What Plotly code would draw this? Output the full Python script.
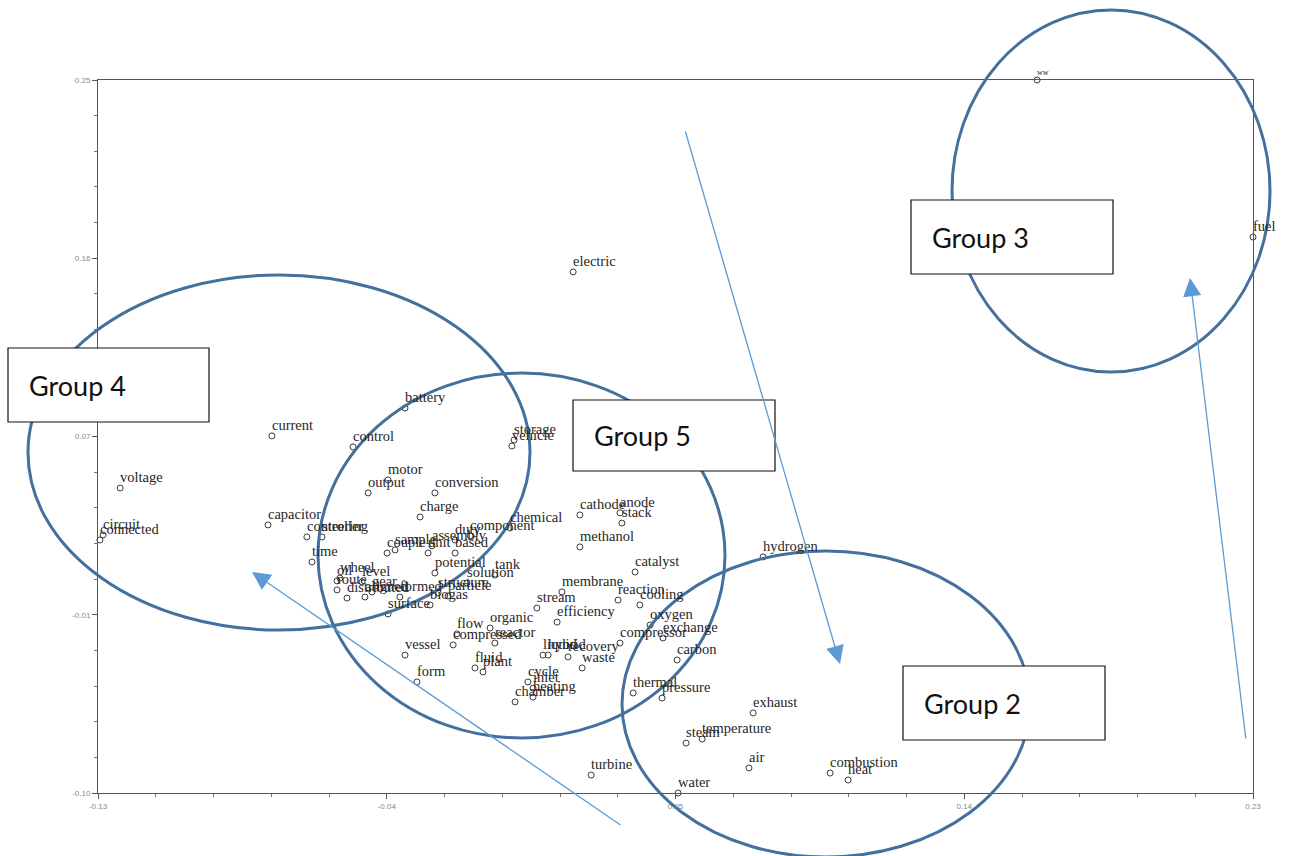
import numpy as np
import plotly.graph_objects as go

# Term coordinates on the two mapped dimensions
terms = [
    "ww", "fuel", "electric", "battery", "current", "control", "storage", "vehicle",
    "voltage", "motor", "output", "conversion", "charge", "capacitor", "controller",
    "steering", "time", "circuit", "connected", "couple", "sample", "unit", "assembly",
    "based", "duty", "component", "chemical", "cathode", "anode", "stack", "methanol",
    "catalyst", "potential", "tank", "solution", "wheel", "oil", "level", "route",
    "distributed", "aligned", "gear", "formed", "structure", "particle", "biogas",
    "surface", "membrane", "reaction", "cooling", "stream", "efficiency", "organic",
    "flow", "reactor", "compressed", "vessel", "fluid", "plant", "form", "liquid",
    "hybrid", "recovery", "waste", "compressor", "cycle", "inlet", "heating", "chamber",
    "thermal", "pressure", "oxygen", "exchange", "carbon", "hydrogen", "exhaust",
    "steam", "temperature", "air", "combustion", "heat", "water", "turbine",
]
dim1 = [
    0.1627, 0.2300, 0.0181, -0.0343, -0.0758, -0.0505, -0.0003, -0.0010,
    -0.1231, -0.0396, -0.0458, -0.0250, -0.0296, -0.0770, -0.0649,
    -0.0602, -0.0633, -0.1284, -0.1294, -0.0399, -0.0374, -0.0271, -0.0259,
    -0.0187, -0.0187, -0.0140, -0.0016, 0.0202, 0.0327, 0.0333, 0.0202,
    0.0374, -0.0250, -0.0063, -0.0150, -0.0546, -0.0555, -0.0477, -0.0555,
    -0.0524, -0.0468, -0.0446, -0.0359, -0.0240, -0.0209, -0.0265,
    -0.0396, 0.0146, 0.0321, 0.0389, 0.0068, 0.0131, -0.0078,
    -0.0181, -0.0063, -0.0193, -0.0343, -0.0125, -0.0100, -0.0306, 0.0087,
    0.0103, 0.0165, 0.0209, 0.0327, 0.0040, 0.0056, 0.0056, 0.0000,
    0.0368, 0.0458, 0.0421, 0.0461, 0.0505, 0.0773, 0.0742,
    0.0533, 0.0583, 0.0729, 0.0982, 0.1038, 0.0508, 0.0237,
]
dim2 = [
    0.2500, 0.1729, 0.1558, 0.0890, 0.0753, 0.0699, 0.0733, 0.0703,
    0.0497, 0.0537, 0.0473, 0.0473, 0.0355, 0.0316, 0.0257,
    0.0257, 0.0134, 0.0267, 0.0242, 0.0178, 0.0193, 0.0178, 0.0213,
    0.0178, 0.0242, 0.0262, 0.0301, 0.0365, 0.0375, 0.0325, 0.0208,
    0.0085, 0.0080, 0.0070, 0.0031, 0.0055, 0.0041, 0.0036, -0.0003,
    -0.0043, -0.0038, -0.0013, -0.0038, -0.0018, -0.0033, -0.0077,
    -0.0121, -0.0013, -0.0053, -0.0077, -0.0092, -0.0161, -0.0190,
    -0.0219, -0.0264, -0.0273, -0.0323, -0.0386, -0.0406, -0.0455, -0.0323,
    -0.0323, -0.0332, -0.0386, -0.0264, -0.0455, -0.0485, -0.0529, -0.0553,
    -0.0509, -0.0534, -0.0175, -0.0239, -0.0347, 0.0159, -0.0607,
    -0.0755, -0.0735, -0.0877, -0.0902, -0.0936, -0.1000, -0.0912,
]

# Axis ticks
x_ticks = [-0.13, -0.04, 0.05, 0.14, 0.23]
x_labels = ["-0.13", "-0.04", "0.05", "0.14", "0.23"]
y_ticks = list(np.linspace(-0.10, 0.25, 5))
y_labels = ["-0.10", "-0.01", "0.07", "0.16", "0.25"]

# Group captions
groups = ["Group 4", "Group 5", "Group 3", "Group 2"]

W, H = 1299, 856
L, R, T, B = 98, 46, 80, 63
PW, PH = W - L - R, H - T - B


def px(x):
    return (x - L) / PW


def py(y):
    return (H - B - y) / PH


fig = go.Figure()
fig.add_trace(go.Scatter(
    x=dim1, y=dim2, mode="markers", text=terms,
    marker=dict(symbol="circle-open", size=6, color="#3a3a3a", line=dict(width=1)),
    cliponaxis=False, hoverinfo="text",
))

annotations = []
# Term labels sit just above and to the right of each marker
for term, xv, yv in zip(terms, dim1, dim2):
    small = term == "ww"
    annotations.append(dict(
        x=xv, y=yv, xref="x", yref="y", text=term, showarrow=False,
        xanchor="left", yanchor="bottom", xshift=-1, yshift=2,
        borderpad=0,
        font=dict(family="Liberation Serif", size=8 if small else 14.5,
                  color="#262626"),
    ))

ring = "#43709e"
ellipses = [
    (28, 275, 530, 630),
    (318, 373, 725, 738),
    (952, 10, 1270, 372),
    (622, 551, 1030, 857),
]
shapes = []
for x0, y0, x1, y1 in ellipses:
    shapes.append(dict(type="circle", xref="paper", yref="paper",
                       x0=px(x0), x1=px(x1), y0=py(y1), y1=py(y0),
                       line=dict(color=ring, width=3), layer="above"))

boxes = [
    (8, 348, 209, 422),
    (573, 400, 775, 471),
    (911, 200, 1113, 274),
    (903, 666, 1105, 740),
]
for name, (x0, y0, x1, y1) in zip(groups, boxes):
    shapes.append(dict(type="rect", xref="paper", yref="paper",
                       x0=px(x0), x1=px(x1), y0=py(y1), y1=py(y0),
                       line=dict(color="#111111", width=1.2),
                       fillcolor="white", layer="above"))
    annotations.append(dict(xref="paper", yref="paper",
                            x=px(x0 + 19), y=py((y0 + y1) / 2),
                            xanchor="left", yanchor="middle", showarrow=False,
                            text=name,
                            font=dict(family="Lato", size=27, color="#111111")))

# Direction arrows: (tail, head)
arrows = [
    ((685, 130), (840, 664)),
    ((622, 826), (252, 572)),
    ((1246, 740), (1190, 278)),
]
for (tx, ty), (hx, hy) in arrows:
    annotations.append(dict(xref="paper", yref="paper",
                            x=px(hx), y=py(hy), ax=tx - hx, ay=ty - hy,
                            axref="pixel", ayref="pixel",
                            showarrow=True, arrowhead=2, arrowsize=2.8,
                            arrowwidth=1.3, arrowcolor="#5b9bd5", text=""))

axis_common = dict(
    showgrid=False, zeroline=False, showline=True, linecolor="#555555",
    linewidth=1, mirror=True, ticks="outside", ticklen=5, tickcolor="#555555",
    tickfont=dict(family="Liberation Sans", size=8, color="#888888"),
)

fig.update_xaxes(range=[-0.13, 0.23], tickmode="array", tickvals=x_ticks,
                 ticktext=x_labels,
                 minor=dict(ticks="outside", ticklen=3, tickcolor="#777777",
                            tickmode="linear", tick0=-0.13, dtick=0.018),
                 **axis_common)
fig.update_yaxes(range=[-0.10, 0.25], tickmode="array", tickvals=y_ticks,
                 ticktext=y_labels,
                 minor=dict(ticks="outside", ticklen=3, tickcolor="#777777",
                            tickmode="linear", tick0=-0.10, dtick=0.0175),
                 **axis_common)

fig.update_layout(
    width=W, height=H, margin=dict(l=L, r=R, t=T, b=B),
    paper_bgcolor="white", plot_bgcolor="white", showlegend=False,
    shapes=shapes, annotations=annotations,
)

fig.write_html("out.html")
